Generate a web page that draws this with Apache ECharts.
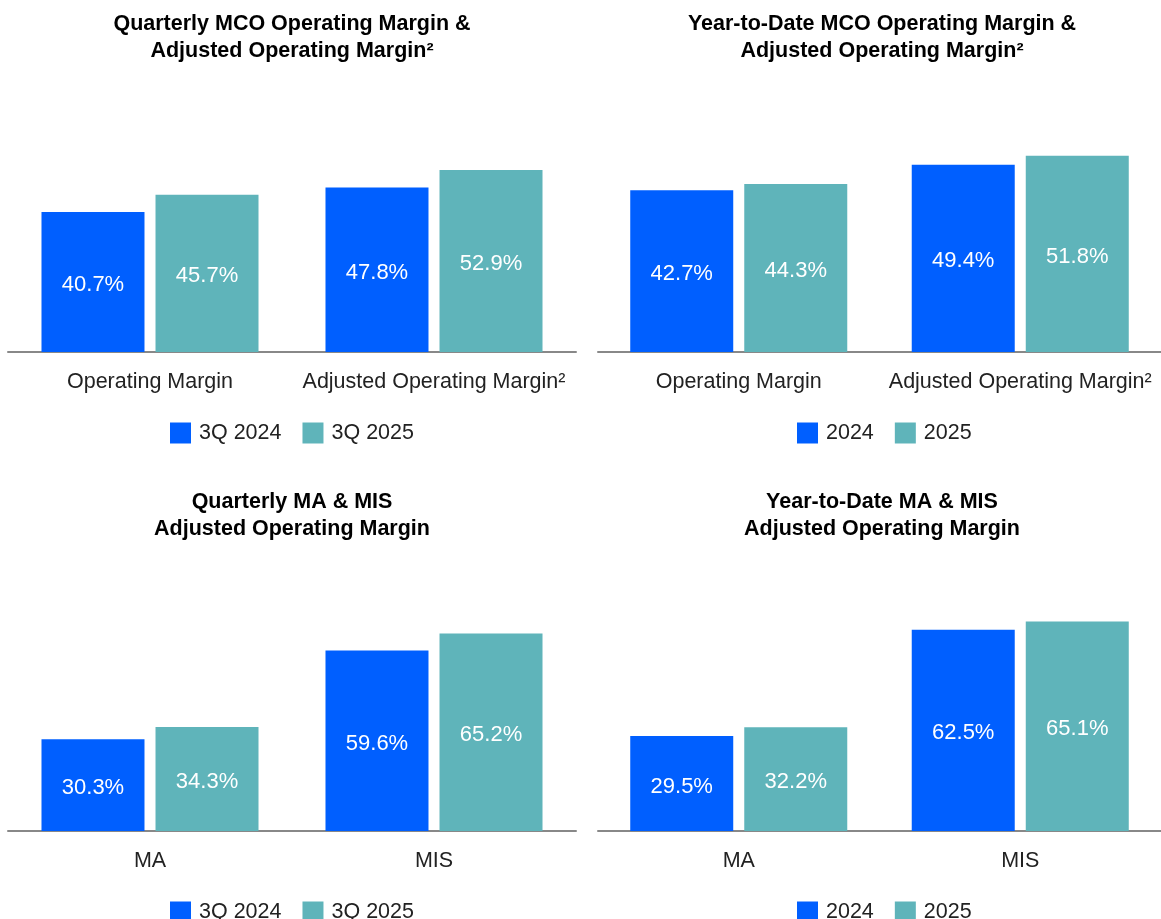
<!DOCTYPE html>
<html>
<head>
<meta charset="utf-8">
<script src="https://cdn.jsdelivr.net/npm/echarts@6/dist/echarts.min.js"></script>
<style>
    body { margin: 0; background: #fff; }
    #chart { width: 1161px; height: 919px; }
</style>
</head>
<body>
<div id="chart"></div>
<script>
const mcoCategories = ['Operating Margin', 'Adjusted Operating Margin²'];
const segmentCategories = ['MA', 'MIS'];

const quarterNames = ['3Q 2024', '3Q 2025'];
const yearNames = ['2024', '2025'];

const quarterMco2024 = [40.7, 47.8];
const quarterMco2025 = [45.7, 52.9];
const ytdMco2024 = [42.7, 49.4];
const ytdMco2025 = [44.3, 51.8];

const quarterSeg2024 = [30.3, 59.6];
const quarterSeg2025 = [34.3, 65.2];
const ytdSeg2024 = [29.5, 62.5];
const ytdSeg2025 = [32.2, 65.1];

const titles = [
    'Quarterly MCO Operating Margin &\nAdjusted Operating Margin²',
    'Year-to-Date MCO Operating Margin &\nAdjusted Operating Margin²',
    'Quarterly MA & MIS\nAdjusted Operating Margin',
    'Year-to-Date MA & MIS\nAdjusted Operating Margin'
];

const FONT = "'Liberation Sans', Arial, sans-serif";
const BLUE = '#005fff';
const TEAL = '#5fb4ba';

// one panel per quadrant
const panels = [
    { cats: mcoCategories, names: quarterNames, a: quarterMco2024, b: quarterMco2025, x: 8, base: 352, h: 240.8, titleTop: 10, legendLeft: 170 },
    { cats: mcoCategories, names: yearNames, a: ytdMco2024, b: ytdMco2025, x: 598, base: 352, h: 265.3, titleTop: 10, legendLeft: 797 },
    { cats: segmentCategories, names: quarterNames, a: quarterSeg2024, b: quarterSeg2025, x: 8, base: 831, h: 212.1, titleTop: 488, legendLeft: 170 },
    { cats: segmentCategories, names: yearNames, a: ytdSeg2024, b: ytdSeg2025, x: 598, base: 831, h: 225.4, titleTop: 488, legendLeft: 797 }
];

const chart = echarts.init(document.getElementById('chart'));

function barSeries(name, data, idx, color) {
    return {
        name: name,
        type: 'bar',
        xAxisIndex: idx,
        yAxisIndex: idx,
        data: data,
        barWidth: 103,
        barGap: '10.7%',
        itemStyle: { color: color },
        label: {
            show: true,
            position: 'inside',
            offset: [0, 3],
            formatter: p => p.value.toFixed(1) + '%',
            color: '#fff',
            fontSize: 22,
            fontFamily: FONT
        },
        animation: false
    };
}

const option = {
    backgroundColor: '#fff',
    animation: false,
    title: [],
    legend: [],
    grid: [],
    xAxis: [],
    yAxis: [],
    series: []
};

panels.forEach((p, i) => {
    option.title.push({
        text: titles[i],
        left: p.x + 284,
        top: p.titleTop + 1,
        textAlign: 'center',
        padding: 0,
        textStyle: { fontFamily: FONT, fontSize: 21.5, fontWeight: 'bold', color: '#000', lineHeight: 27 }
    });
    option.legend.push({
        data: p.names.map(n => ({ name: n, icon: 'rect' })),
        left: p.legendLeft,
        top: p.base + 70,
        padding: 0,
        itemWidth: 21,
        itemHeight: 21,
        itemGap: 21,
        textStyle: { fontFamily: FONT, fontSize: 21.5, color: '#222', padding: [0, 0, 0, 3] }
    });
    option.grid.push({ left: p.x, top: p.base - p.h, width: 568, height: p.h });
    option.xAxis.push({
        type: 'category',
        gridIndex: i,
        data: p.cats,
        axisTick: { show: false },
        axisLine: { lineStyle: { color: '#888', width: 2 } },
        axisLabel: { fontFamily: FONT, fontSize: 21.5, color: '#222', margin: 19, interval: 0, hideOverlap: false }
    });
    option.yAxis.push({
        type: 'value',
        gridIndex: i,
        min: 0,
        max: 70,
        show: false,
        splitLine: { show: false }
    });
    option.series.push(barSeries(p.names[0], p.a, i, BLUE));
    option.series.push(barSeries(p.names[1], p.b, i, TEAL));
});

chart.setOption(option);
</script>
</body>
</html>
